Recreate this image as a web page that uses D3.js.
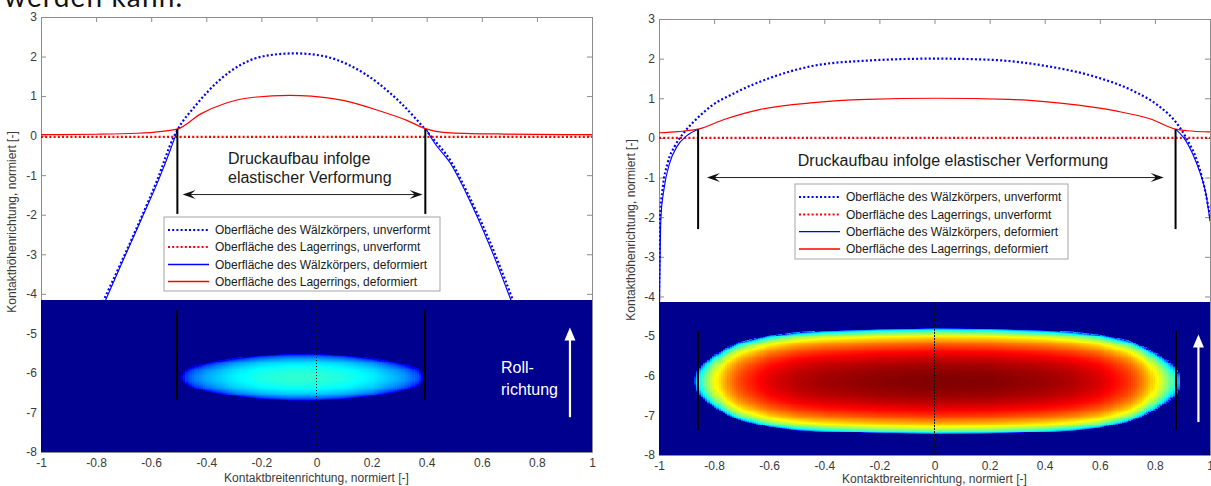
<!DOCTYPE html>
<html>
<head>
<meta charset="utf-8">
<script src="https://cdn.jsdelivr.net/npm/d3@7"></script>
<style>
  body { margin: 0; background: #fff; }
  svg { display: block; font-family: "Liberation Sans", Arial, sans-serif; }
</style>
</head>
<body>
<svg id="chart" width="1211" height="486"></svg>
<script>
// ---- shared axis data ----
const xTickValues = [-1, -0.8, -0.6, -0.4, -0.2, 0, 0.2, 0.4, 0.6, 0.8, 1];
const xTickLabels = ['-1', '-0.8', '-0.6', '-0.4', '-0.2', '0', '0.2', '0.4', '0.6', '0.8', '1'];
const yTickValues = [3, 2, 1, 0, -1, -2, -3, -4, -5, -6, -7, -8];
const yTickLabels = ['3', '2', '1', '0', '-1', '-2', '-3', '-4', '-5', '-6', '-7', '-8'];
const xTitle = 'Kontaktbreitenrichtung, normiert [-]';
const yTitle = 'Kontakthöhenrichtung, normiert [-]';
const legendLabels = [
  'Oberfläche des Wälzkörpers, unverformt',
  'Oberfläche des Lagerrings, unverformt',
  'Oberfläche des Wälzkörpers, deformiert',
  'Oberfläche des Lagerrings, deformiert'
];
const annotationText = ['Druckaufbau infolge', 'elastischer Verformung'];
const rollText = ['Roll-', 'richtung'];
const contactTop = -4.15;

// ---- left chart (point contact) ----
const leftRollerUndeformed = [[-0.775, -4.2], [-0.706, -3.16], [-0.641, -2.15], [-0.578, -1.12], [-0.518, -0.03],
  [-0.505, 0.14], [-0.434, 0.8], [-0.356, 1.38], [-0.278, 1.78], [-0.175, 2.03], [-0.078, 2.08], [0.019, 2.02],
  [0.123, 1.77], [0.227, 1.31], [0.304, 0.84], [0.417, -0.03], [0.486, -0.63], [0.55, -1.48], [0.628, -2.66], [0.715, -4.2]];
const leftRingUndeformed = [[-1, -0.03], [1, -0.03]];
// null = inside the contact, where the roller lies under the ring surface
const leftRollerDeformed = [[-0.768, -4.2], [-0.7, -3.12], [-0.636, -2.12], [-0.572, -1.1], [-0.53, -0.35],
  [-0.503, 0.17], null, [0.398, 0.17], [0.425, -0.15], [0.486, -0.7], [0.55, -1.55], [0.625, -2.72], [0.708, -4.2]];
const leftRingDeformed = [[-1, 0.025], [-0.8, 0.035], [-0.65, 0.06], [-0.56, 0.11], [-0.503, 0.17], [-0.42, 0.55],
  [-0.33, 0.82], [-0.227, 0.97], [-0.097, 1.02], [-0.019, 1.0], [0.097, 0.89], [0.227, 0.63], [0.33, 0.38],
  [0.398, 0.17], [0.434, 0.11], [0.486, 0.07], [0.68, 0.04], [1, 0.025]];
const leftContactX = [-0.5, -0.47, -0.44, -0.4, -0.3, -0.2, -0.1, -0.05, 0, 0.1, 0.2, 0.3, 0.34, 0.37, 0.4];
const leftContactHalfWidth = [0, 0.21, 0.29, 0.36, 0.48, 0.55, 0.58, 0.58, 0.58, 0.55, 0.48, 0.36, 0.29, 0.21, 0];
const leftContactPeak = 0.41;
const leftContactCenter = -6.1;
const leftEdges = [-0.505, 0.395];

// ---- right chart (line contact) ----
const rightRollerUndeformed = [[-1.0, -4.2], [-0.996, -2.0], [-0.987, -1.29], [-0.968, -0.62], [-0.942, -0.2],
  [-0.91, 0.13], [-0.865, 0.47], [-0.813, 0.79], [-0.723, 1.14], [-0.594, 1.52], [-0.439, 1.82], [-0.245, 1.95],
  [0, 2.0], [0.206, 1.97], [0.4, 1.82], [0.594, 1.52], [0.723, 1.18], [0.813, 0.81], [0.877, 0.39], [0.916, -0.03],
  [0.955, -0.62], [0.981, -1.29], [1.0, -1.97]];
const rightRingUndeformed = [[-1, 0], [1, 0]];
const rightRollerDeformed = [[-0.998, -4.2], [-0.993, -2.0], [-0.982, -1.3], [-0.962, -0.65], [-0.935, -0.22],
  [-0.9, 0.05], [-0.858, 0.22], null, [0.875, 0.22], [0.905, 0.0], [0.94, -0.45],
  [0.965, -0.9], [0.985, -1.4], [1.0, -2.1]];
const rightRingDeformed = [[-1, 0.13], [-0.93, 0.16], [-0.858, 0.22], [-0.761, 0.47], [-0.632, 0.72],
  [-0.439, 0.89], [-0.245, 0.97], [0, 1.0], [0.271, 0.97], [0.465, 0.87], [0.658, 0.68], [0.787, 0.47],
  [0.875, 0.22], [0.916, 0.18], [1.0, 0.15]];
const rightContactX = [-0.872, -0.865, -0.85, -0.83, -0.8, -0.75, -0.7, -0.6, -0.5, -0.4, -0.2, 0, 0.2, 0.4, 0.5, 0.6, 0.7, 0.75, 0.8, 0.85, 0.87, 0.885, 0.892];
const rightContactHalfWidth = [0, 0.22, 0.38, 0.5, 0.66, 0.86, 1.0, 1.15, 1.23, 1.27, 1.31, 1.33, 1.32, 1.28, 1.24, 1.17, 1.03, 0.9, 0.72, 0.5, 0.38, 0.22, 0];
const rightContactPeak = 1.0;
const rightContactCenter = -6.13;
const rightEdges = [-0.858, 0.875];

// MATLAB jet colormap
const jet = d3.scaleLinear()
  .domain([0, 0.11, 0.365, 0.62, 0.873, 1])
  .range(['#00008f', '#0000ff', '#00ffff', '#ffff00', '#ff0000', '#800000'])
  .clamp(true);

const svg = d3.select('#chart');
const axisGray = '#8c8c8c';
const labelGray = '#3a3a3a';

// last line of the page text above the figure, partly cut off
svg.append('text')
  .attr('x', 4).attr('y', 7)
  .attr('font-family', 'Lato, "Open Sans", sans-serif')
  .attr('font-size', 28)
  .attr('textLength', 178)
  .attr('fill', '#111')
  .text('werden kann.');

function arrowHead(g, x, y, dir, len, wid, color) {
  // dir: +1 right, -1 left
  const p = `M${x},${y}L${x - dir * len},${y - wid / 2}L${x - dir * len * 0.6},${y}L${x - dir * len},${y + wid / 2}Z`;
  g.append('path').attr('d', p).attr('fill', color);
}

function drawPanel(cfg) {
  const x = d3.scaleLinear().domain([-1, 1]).range([cfg.left, cfg.right]);
  const y = d3.scaleLinear().domain([3, -8]).range([cfg.top, cfg.bottom]);
  const g = svg.append('g');

  const clipId = 'clip-' + cfg.id;
  svg.append('clipPath').attr('id', clipId)
    .append('rect').attr('x', cfg.left).attr('y', cfg.top)
    .attr('width', cfg.right - cfg.left).attr('height', cfg.bottom - cfg.top);

  // axes (MATLAB-style inward ticks)
  const fmtX = d => xTickLabels[xTickValues.indexOf(d)];
  const fmtY = d => yTickLabels[yTickValues.indexOf(d)];
  const axes = [
    g.append('g').attr('transform', `translate(0,${cfg.bottom})`)
      .call(d3.axisBottom(x).tickValues(xTickValues).tickFormat(fmtX).tickSizeInner(-5).tickSizeOuter(0).tickPadding(6)),
    g.append('g').attr('transform', `translate(0,${cfg.top})`)
      .call(d3.axisTop(x).tickValues(xTickValues).tickFormat('').tickSizeInner(-5).tickSizeOuter(0)),
    g.append('g').attr('transform', `translate(${cfg.left},0)`)
      .call(d3.axisLeft(y).tickValues(yTickValues).tickFormat(fmtY).tickSizeInner(-5).tickSizeOuter(0).tickPadding(4)),
    g.append('g').attr('transform', `translate(${cfg.right},0)`)
      .call(d3.axisRight(y).tickValues(yTickValues).tickFormat('').tickSizeInner(-5).tickSizeOuter(0))
  ];
  axes.forEach(a => {
    a.selectAll('path, line').attr('stroke', axisGray);
    a.selectAll('text').attr('fill', labelGray).attr('font-size', 12)
      .attr('font-family', '"Liberation Sans", Arial, sans-serif');
  });

  g.append('text')
    .attr('x', (cfg.left + cfg.right) / 2).attr('y', cfg.bottom + cfg.xTitleGap)
    .attr('text-anchor', 'middle').attr('font-size', 12).attr('fill', labelGray)
    .text(xTitle);
  g.append('text')
    .attr('transform', `translate(${cfg.yTitleX},${cfg.yTitleY}) rotate(-90)`)
    .attr('text-anchor', 'middle').attr('font-size', 12).attr('fill', labelGray)
    .text(yTitle);

  // surface curves
  const line = d3.line().defined(d => d).x(d => x(d[0])).y(d => y(d[1])).curve(d3.curveMonotoneX);
  const curves = g.append('g').attr('clip-path', `url(#${clipId})`);
  const series = [
    { data: cfg.rollerUndeformed, color: '#0000ff', width: 2.2, dash: '2,2.2' },
    { data: cfg.ringUndeformed, color: '#ff0000', width: 2.2, dash: '2,2.2' },
    { data: cfg.rollerDeformed, color: '#0000ff', width: 1.1, dash: null },
    { data: cfg.ringDeformed, color: '#ff0000', width: 1.2, dash: null }
  ];
  series.forEach(s => {
    curves.append('path').datum(s.data)
      .attr('d', line).attr('fill', 'none')
      .attr('stroke', s.color).attr('stroke-width', s.width)
      .attr('stroke-dasharray', s.dash);
  });

  // contact pressure field (image over the lower part of the axes);
  // contours follow the contact outline
  const hm = g.append('g').attr('shape-rendering', 'crispEdges');
  hm.append('rect')
    .attr('x', cfg.left).attr('y', y(contactTop))
    .attr('width', cfg.right - cfg.left).attr('height', y(-8) - y(contactTop))
    .attr('fill', jet(0));
  const bAt = d3.scaleLinear().domain(cfg.contactX).range(cfg.halfWidth).clamp(true);
  const bMax = d3.max(cfg.halfWidth);
  const dx = 0.008, dy = 0.022;
  const cells = [];
  const x0 = cfg.contactX[0], x1 = cfg.contactX[cfg.contactX.length - 1];
  for (let i = 0; x0 + i * dx < x1; i++) {
    const xv = x0 + i * dx, b = bAt(xv + dx / 2);
    if (b <= 0) continue;
    const jStart = Math.floor((cfg.contactCenter - b) / dy);
    const jEnd = Math.ceil((cfg.contactCenter + b) / dy);
    for (let j = jStart; j <= jEnd; j++) {
      const yv = j * dy, off = yv + dy / 2 - cfg.contactCenter;
      const q = (b * b - off * off) / (bMax * bMax);
      if (q <= 0) continue;
      cells.push({ x: xv, y: yv, p: cfg.peak * Math.pow(q, cfg.profileExp) });
    }
  }
  hm.selectAll('rect.cell').data(cells).join('rect')
    .attr('class', 'cell')
    .attr('x', d => x(d.x))
    .attr('y', d => y(d.y + dy))
    .attr('width', x(dx) - x(0) + 0.6)
    .attr('height', y(0) - y(dy) + 0.6)
    .attr('fill', d => jet(d.p));

  // centre line and contact edge markers inside the image
  hm.append('line')
    .attr('x1', x(0)).attr('x2', x(0)).attr('y1', y(contactTop)).attr('y2', y(-8))
    .attr('stroke', '#111').attr('stroke-width', 1).attr('stroke-dasharray', '1.5,1.5');
  cfg.edges.forEach(e => {
    hm.append('line')
      .attr('x1', x(e)).attr('x2', x(e)).attr('y1', y(cfg.imgMarkTop)).attr('y2', y(cfg.imgMarkBottom))
      .attr('stroke', '#000').attr('stroke-width', 2);
  });

  // rolling direction arrow
  const ax = x(cfg.rollX);
  g.append('line')
    .attr('x1', ax).attr('x2', ax).attr('y1', y(cfg.rollBottom)).attr('y2', y(cfg.rollTop) + 10)
    .attr('stroke', '#fff').attr('stroke-width', 2.2);
  g.append('path')
    .attr('d', `M${ax},${y(cfg.rollTop)}L${ax - 5.5},${y(cfg.rollTop) + 13}L${ax + 5.5},${y(cfg.rollTop) + 13}Z`)
    .attr('fill', '#fff');
  if (cfg.rollLabel) {
    rollText.forEach((t, i) => {
      g.append('text')
        .attr('x', cfg.rollLabelX).attr('y', cfg.rollLabelY + i * 22)
        .attr('font-size', 16).attr('fill', '#fff').text(t);
    });
  }

  // contact width markers and annotation
  cfg.edges.forEach(e => {
    g.append('line')
      .attr('x1', x(e)).attr('x2', x(e)).attr('y1', y(cfg.markTop)).attr('y2', y(cfg.markBottom))
      .attr('stroke', '#000').attr('stroke-width', 2);
  });
  const ay = y(cfg.arrowY);
  g.append('line')
    .attr('x1', x(cfg.arrowFrom) + 6).attr('x2', x(cfg.arrowTo) - 6).attr('y1', ay).attr('y2', ay)
    .attr('stroke', '#222').attr('stroke-width', 1);
  arrowHead(g, x(cfg.arrowFrom), ay, -1, 13, 9, '#111');
  arrowHead(g, x(cfg.arrowTo), ay, 1, 13, 9, '#111');
  cfg.textLines.forEach((t, i) => {
    g.append('text')
      .attr('x', cfg.textX).attr('y', cfg.textY + i * 19)
      .attr('text-anchor', cfg.textAnchor)
      .attr('font-size', 16).attr('fill', '#1a1a1a').text(t);
  });

  // legend
  const lg = g.append('g');
  lg.append('rect')
    .attr('x', cfg.legend.x).attr('y', cfg.legend.y)
    .attr('width', cfg.legend.w).attr('height', cfg.legend.h)
    .attr('fill', '#fff').attr('stroke', '#a6a6a6').attr('stroke-width', 1);
  legendLabels.forEach((lab, i) => {
    const s = series[i];
    const cy = cfg.legend.rows[i];
    lg.append('line')
      .attr('x1', cfg.legend.x + 4).attr('x2', cfg.legend.x + 45)
      .attr('y1', cy).attr('y2', cy)
      .attr('stroke', s.color).attr('stroke-width', s.dash ? 2.2 : 1.4)
      .attr('stroke-dasharray', s.dash);
    lg.append('text')
      .attr('x', cfg.legend.x + 51).attr('y', cy + 4.2)
      .attr('font-size', 12).attr('fill', '#1a1a1a').text(lab);
  });
}

drawPanel({
  id: 'left', left: 41, right: 592, top: 17, bottom: 452,
  yTitleX: 16, yTitleY: 222, xTitleGap: 30,
  rollerUndeformed: leftRollerUndeformed, ringUndeformed: leftRingUndeformed,
  rollerDeformed: leftRollerDeformed, ringDeformed: leftRingDeformed,
  contactX: leftContactX, halfWidth: leftContactHalfWidth, peak: leftContactPeak,
  contactCenter: leftContactCenter, edges: leftEdges, profileExp: 0.4,
  imgMarkTop: -4.4, imgMarkBottom: -6.68,
  rollX: 0.92, rollTop: -4.85, rollBottom: -7.12, rollLabel: true, rollLabelX: 501, rollLabelY: 373,
  markTop: 0.17, markBottom: -1.98,
  arrowY: -1.49, arrowFrom: -0.486, arrowTo: 0.385,
  textLines: annotationText, textX: 228, textY: 164, textAnchor: 'start',
  legend: { x: 164, y: 217, w: 276, h: 74, rows: [230, 247, 264.5, 281.5] }
});

drawPanel({
  id: 'right', left: 659, right: 1210, top: 19, bottom: 455,
  yTitleX: 635, yTitleY: 230, xTitleGap: 28,
  rollerUndeformed: rightRollerUndeformed, ringUndeformed: rightRingUndeformed,
  rollerDeformed: rightRollerDeformed, ringDeformed: rightRingDeformed,
  contactX: rightContactX, halfWidth: rightContactHalfWidth, peak: rightContactPeak,
  contactCenter: rightContactCenter, edges: rightEdges, profileExp: 0.36,
  imgMarkTop: -4.875, imgMarkBottom: -7.375,
  rollX: 0.958, rollTop: -4.96, rollBottom: -7.17, rollLabel: false,
  markTop: 0.22, markBottom: -2.3,
  arrowY: -1.0, arrowFrom: -0.826, arrowTo: 0.832,
  textLines: [annotationText.join(' ')], textX: 953, textY: 166, textAnchor: 'middle',
  legend: { x: 795, y: 184, w: 273, h: 75, rows: [197, 214.5, 231.6, 249] }
});
</script>
</body>
</html>
